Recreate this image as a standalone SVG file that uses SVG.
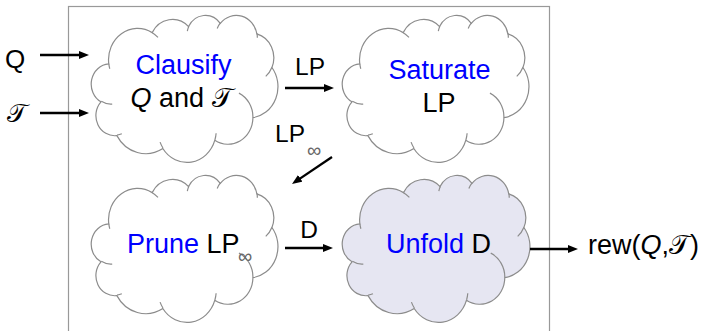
<svg xmlns="http://www.w3.org/2000/svg" xmlns:xlink="http://www.w3.org/1999/xlink" width="706" height="331" viewBox="0 0 706 331">
<style>
text{font-family:'Liberation Sans',Arial,sans-serif;fill:#000}
.big{font-size:27px}
.lbl{font-size:24.5px}
.blue{fill:#0000ff}
.cal{font-family:'DejaVu Sans','Noto Sans',sans-serif;font-style:normal}
.inf{font-size:20px;fill:#666}
.cloud{fill:#fff;stroke:#8c8c8c;stroke-width:1.2}
.cloud.shade{fill:#e6e6f2}
.hooks{fill:none;stroke:#8c8c8c;stroke-width:1.2}
.edge{stroke:#000;stroke-width:2.3;fill:none;marker-end:url(#ah)}
</style>
<defs>
<marker id="ah" viewBox="0 0 10 8" refX="4" refY="4" markerWidth="10" markerHeight="8" markerUnits="userSpaceOnUse" orient="auto"><path d="M0,0 L10,4 L0,8 z" fill="#000"/></marker>
<path id="cloudPath" vector-effect="non-scaling-stroke" d="M3900,14370 A6753,9190 0 0 1 13975,5178 A5333,7267 0 0 1 22426,3408 A4365,5945 0 0 1 29803,2457 A4857,6595 0 0 1 38288,5552 A5333,7273 0 0 1 41788,15435 A6775,9220 0 0 1 37374,30179 A5785,7867 0 0 1 28526,36789 A6752,9215 0 0 1 16451,39240 A7720,10543 0 0 1 5775,35446 A4360,5918 0 0 1 2083,25524 A4345,5945 0 0 1 3900,14370 Z"/>
<path id="cloudHooks" vector-effect="non-scaling-stroke" d="M4693,26177 A4345,5945 0 0 1 2160,25380 M6928,34899 A4360,5918 0 0 1 5820,35280 M16478,39090 A6752,9215 0 0 1 15810,37350 M28827,34751 A6752,9215 0 0 1 28560,36660 M34129,22954 A5785,7867 0 0 1 37380,30090 M41798,15354 A5333,7273 0 0 1 40350,18030 M38324,5426 A4857,6595 0 0 1 38400,6690 M29078,3952 A4857,6595 0 0 1 29820,2340 M22141,4720 A4365,5945 0 0 1 22500,3329 M14000,5192 A6753,9190 0 0 1 15330,6564 M4127,15789 A6753,9190 0 0 1 3900,14370"/>
</defs>

<rect x="68.5" y="6.5" width="481" height="340" fill="none" stroke="#999" stroke-width="1.2"/>

<g id="clausify">
<use xlink:href="#cloudPath" class="cloud" transform="translate(92,15) scale(0.0043056,0.0034028)"/>
<use xlink:href="#cloudHooks" class="hooks" transform="translate(92,15) scale(0.0043056,0.0034028)"/>
<text class="big blue" x="183.5" y="74" text-anchor="middle">Clausify</text>
<text class="big" x="181.5" y="106.5" text-anchor="middle"><tspan font-style="italic">Q</tspan> and <tspan class="cal">𝒯</tspan></text>
</g>

<g id="saturate">
<use xlink:href="#cloudPath" class="cloud" transform="translate(343,15) scale(0.0043056,0.0034028)"/>
<use xlink:href="#cloudHooks" class="hooks" transform="translate(343,15) scale(0.0043056,0.0034028)"/>
<text class="big blue" x="439.5" y="79" text-anchor="middle">Saturate</text>
<text class="big" x="439" y="112" text-anchor="middle">LP</text>
</g>

<g id="prune">
<use xlink:href="#cloudPath" class="cloud" transform="translate(92,175) scale(0.0043056,0.0034028)"/>
<use xlink:href="#cloudHooks" class="hooks" transform="translate(92,175) scale(0.0043056,0.0034028)"/>
<text class="big" x="127" y="253"><tspan class="blue">Prune</tspan> LP</text>
<text class="inf" x="238" y="262.5">∞</text>
</g>

<g id="unfold">
<use xlink:href="#cloudPath" class="cloud shade" transform="translate(343,175) scale(0.0043287,0.0034028)"/>
<use xlink:href="#cloudHooks" class="hooks" transform="translate(343,175) scale(0.0043287,0.0034028)"/>
<text class="big" x="438.5" y="253" text-anchor="middle"><tspan class="blue">Unfold</tspan> D</text>
</g>

<g id="inputs">
<text x="5" y="68" style="font-size:26px">Q</text>
<text x="7" y="122" style="font-size:26px"><tspan class="cal">𝒯</tspan></text>
</g>

<g id="output">
<text class="big" x="588" y="254">rew(<tspan font-style="italic">Q</tspan>,<tspan class="cal">𝒯</tspan>)</text>
</g>

<g id="connectors">
<line class="edge" x1="40" y1="55" x2="83" y2="55"/>
<line class="edge" x1="40" y1="113" x2="83" y2="113"/>
<line class="edge" x1="285" y1="88" x2="328" y2="88"/>
<text class="lbl" x="310" y="75" text-anchor="middle">LP</text>
<line class="edge" x1="332" y1="157" x2="296.97" y2="180.64"/>
<text class="lbl" x="275" y="142">LP</text>
<text class="inf" x="307" y="156.5">∞</text>
<line class="edge" x1="285" y1="248" x2="327" y2="248"/>
<text class="lbl" x="309" y="238" text-anchor="middle">D</text>
<line class="edge" x1="530" y1="249" x2="572" y2="249"/>
</g>
</svg>
